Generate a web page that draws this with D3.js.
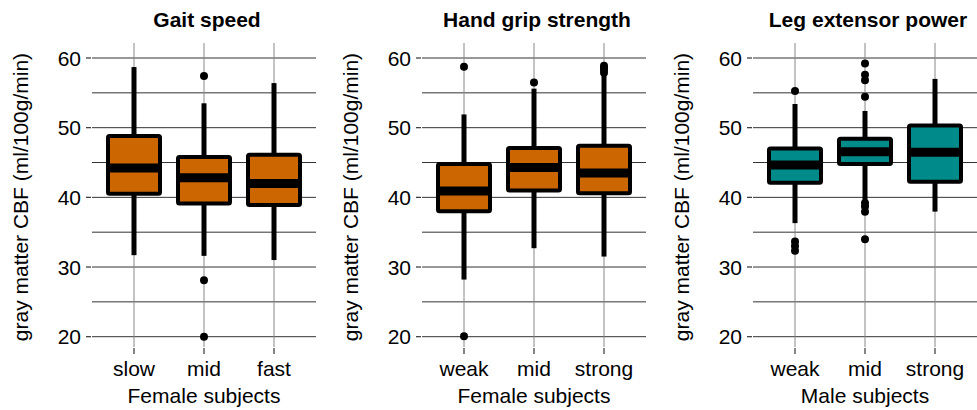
<!DOCTYPE html>
<html>
<head>
<meta charset="utf-8">
<script src="https://cdn.jsdelivr.net/npm/d3@7"></script>
<style>
  body { margin: 0; background: #fff; }
  text { font-family: "Liberation Sans", Arial, sans-serif; }
</style>
</head>
<body>
<div id="chart"></div>
<script>
// Box stats: [lower whisker, q1, median, q3, upper whisker]
const gaitCats = ["slow", "mid", "fast"];
const gaitStats = [
  [31.7, 40.5, 44.2, 48.8, 58.7],
  [31.6, 39.1, 42.8, 45.8, 53.5],
  [31.0, 38.9, 42.0, 46.1, 56.4]
];
const gaitOutliers = [[], [57.4, 28.1, 20.0], []];

const gripCats = ["weak", "mid", "strong"];
const gripStats = [
  [28.2, 38.0, 40.9, 44.8, 51.9],
  [32.7, 41.0, 44.3, 47.1, 55.6],
  [31.5, 40.6, 43.5, 47.4, 57.5]
];
const gripOutliers = [[58.75, 20.05], [56.5], [58.9, 58.6, 58.3, 57.9]];

const legCats = ["weak", "mid", "strong"];
const legStats = [
  [36.3, 42.1, 44.65, 47.0, 53.4],
  [39.4, 44.8, 46.55, 48.4, 52.4],
  [37.95, 42.25, 46.46, 50.3, 57.0]
];
const legOutliers = [
  [55.27, 33.65, 33.0, 32.35],
  [59.2, 57.6, 56.8, 54.45, 39.2, 38.67, 37.95, 34.0],
  []
];

const yTicks = [20, 30, 40, 50, 60];
const yMinor = [25, 35, 45, 55];

const panels = [
  {title: "Gait speed", xlab: "Female subjects", cats: gaitCats, stats: gaitStats, outliers: gaitOutliers, fill: "#CC6600", left: 92},
  {title: "Hand grip strength", xlab: "Female subjects", cats: gripCats, stats: gripStats, outliers: gripOutliers, fill: "#CC6600", left: 422},
  {title: "Leg extensor power", xlab: "Male subjects", cats: legCats, stats: legStats, outliers: legOutliers, fill: "#008B8B", left: 753}
];

const W = 977, H = 410;
const panelW = 224, plotTop = 43, plotBottom = 347;
const fontSize = 21;

const svg = d3.select("#chart").append("svg")
  .attr("width", W)
  .attr("height", H);

const y = d3.scaleLinear().domain([18.52, 62.153]).range([plotBottom, plotTop]);

panels.forEach(p => {
  const x = d3.scalePoint().domain(p.cats).range([p.left, p.left + panelW]).padding(0.6);
  const step = x.step();
  const halfBox = step * 0.8 / 2 - 2;
  const g = svg.append("g");

  // grid lines
  g.selectAll(".hgrid")
    .data(yTicks.concat(yMinor))
    .join("line")
    .attr("x1", p.left).attr("x2", p.left + panelW)
    .attr("y1", d => y(d)).attr("y2", d => y(d))
    .attr("stroke", "#333").attr("stroke-width", 1);

  g.selectAll(".vgrid")
    .data(p.cats)
    .join("line")
    .attr("x1", d => x(d)).attr("x2", d => x(d))
    .attr("y1", plotTop).attr("y2", plotBottom)
    .attr("stroke", "#888").attr("stroke-width", 1);

  // y axis ticks + labels
  const yAxis = g.append("g");
  yAxis.selectAll("line")
    .data(yTicks)
    .join("line")
    .attr("x1", p.left - 6).attr("x2", p.left - 1)
    .attr("y1", d => y(d)).attr("y2", d => y(d))
    .attr("stroke", "#333").attr("stroke-width", 1.2);
  yAxis.selectAll("text")
    .data(yTicks)
    .join("text")
    .attr("x", p.left - 11)
    .attr("y", d => y(d))
    .attr("dy", "0.36em")
    .attr("text-anchor", "end")
    .attr("font-size", fontSize)
    .attr("fill", "#000")
    .text(d => d);

  // x axis ticks + labels
  const xAxis = g.append("g");
  xAxis.selectAll("line")
    .data(p.cats)
    .join("line")
    .attr("x1", d => x(d)).attr("x2", d => x(d))
    .attr("y1", plotBottom + 1).attr("y2", plotBottom + 7)
    .attr("stroke", "#333").attr("stroke-width", 1.2);
  xAxis.selectAll("text")
    .data(p.cats)
    .join("text")
    .attr("x", d => x(d))
    .attr("y", 376)
    .attr("text-anchor", "middle")
    .attr("font-size", fontSize)
    .attr("fill", "#000")
    .text(d => d);

  // axis titles
  g.append("text")
    .attr("x", p.left + panelW / 2)
    .attr("y", 403)
    .attr("text-anchor", "middle")
    .attr("font-size", fontSize)
    .text(p.xlab);

  g.append("text")
    .attr("transform", `translate(${p.left - 64},${(plotTop + plotBottom) / 2 + 2}) rotate(-90)`)
    .attr("text-anchor", "middle")
    .attr("font-size", fontSize)
    .text("gray matter CBF (ml/100g/min)");

  g.append("text")
    .attr("x", p.left + panelW / 2 + 3)
    .attr("y", 27)
    .attr("text-anchor", "middle")
    .attr("font-size", fontSize)
    .attr("font-weight", "bold")
    .text(p.title);

  // boxes
  p.cats.forEach((c, i) => {
    const [lo, q1, med, q3, hi] = p.stats[i];
    const cx = x(c);
    const bg = g.append("g");

    bg.append("line")
      .attr("x1", cx).attr("x2", cx)
      .attr("y1", y(hi)).attr("y2", y(q3))
      .attr("stroke", "#000").attr("stroke-width", 5);
    bg.append("line")
      .attr("x1", cx).attr("x2", cx)
      .attr("y1", y(q1)).attr("y2", y(lo))
      .attr("stroke", "#000").attr("stroke-width", 5);

    bg.append("rect")
      .attr("x", cx - halfBox)
      .attr("y", y(q3))
      .attr("width", halfBox * 2)
      .attr("height", y(q1) - y(q3))
      .attr("fill", p.fill)
      .attr("stroke", "#000")
      .attr("stroke-width", 4)
      .attr("rx", 1.5);

    bg.append("line")
      .attr("x1", cx - halfBox).attr("x2", cx + halfBox)
      .attr("y1", y(med)).attr("y2", y(med))
      .attr("stroke", "#000").attr("stroke-width", 9);

    bg.selectAll("circle")
      .data(p.outliers[i])
      .join("circle")
      .attr("cx", cx)
      .attr("cy", d => y(d))
      .attr("r", 4)
      .attr("fill", "#000");
  });
});
</script>
</body>
</html>
